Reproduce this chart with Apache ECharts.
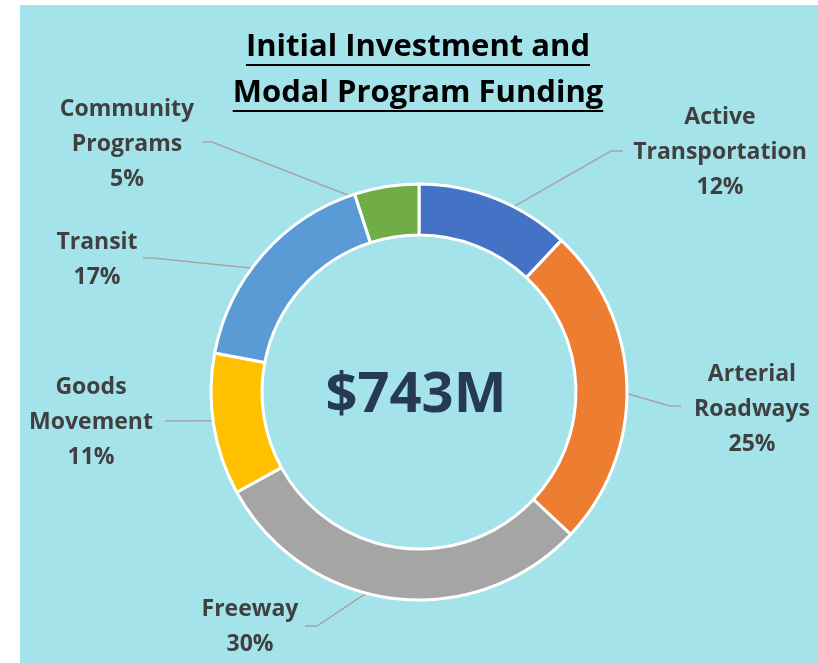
<!DOCTYPE html>
<html>
<head>
<meta charset="utf-8">
<script src="https://cdn.jsdelivr.net/npm/echarts@6/dist/echarts.min.js"></script>
<style>
  html, body { margin: 0; padding: 0; background: #ffffff; }
  #chart { width: 818px; height: 663px; }
</style>
</head>
<body>
<div id="chart"></div>
<script>
// data
var categories = ["Active\nTransportation", "Arterial\nRoadways", "Freeway", "Goods\nMovement", "Transit", "Community\nPrograms"];
var shares = [12, 25, 30, 11, 17, 5];
var colors = ["#4472c4", "#ed7d31", "#a5a5a5", "#ffc000", "#5b9bd5", "#70ad47"];
var titleLines = ["Initial Investment and", "Modal Program Funding"];
var totalLabel = "$743M";

// where Excel put the labels (centre of text block) and the elbow / end of the leader
var labelPos = [[720, 152], [752, 409], [250, 627], [91, 422], [97, 260], [127, 144]];
var lineBend = [[611, 151], [670, 406], [317, 626], [175, 421], [153, 258], [212, 142]];
var lineEnd = [[623, 151], [681, 406], [305, 626], [165, 421], [143, 258], [202, 142]];

var cx = 419, cy = 392, rIn = 157, rOut = 208;
var total = shares.reduce(function (a, b) { return a + b; }, 0);
var titleFont = "bold 31px 'Open Sans'";
var titleX = 418, titleY = [47, 93], underlineY = [65, 111];

function midPoint(i) {
  var before = 0;
  for (var k = 0; k < i; k++) before += shares[k];
  var ang = (before + shares[i] / 2) / total * Math.PI * 2;
  var r = (rIn + rOut) / 2;
  return [cx + r * Math.sin(ang), cy - r * Math.cos(ang)];
}

// measure title so the underline fits the text
var ctx = document.createElement("canvas").getContext("2d");
ctx.font = titleFont;

var graphics = [
  { type: "rect", z: -10, shape: { x: 20, y: 5, width: 798, height: 658 }, style: { fill: "#a5e3ea" } },
  { type: "text", z: 10, x: 416, y: 396,
    style: { text: totalLabel, fill: "#263a55", font: "bold 56px 'Open Sans'", align: "center", verticalAlign: "middle" } }
];
titleLines.forEach(function (t, i) {
  var w = ctx.measureText(t).width;
  graphics.push({ type: "text", z: 10, x: titleX, y: titleY[i],
    style: { text: t, fill: "#000000", font: titleFont, align: "center", verticalAlign: "middle" } });
  graphics.push({ type: "line", z: 10,
    shape: { x1: titleX - w / 2, y1: underlineY[i], x2: titleX + w / 2, y2: underlineY[i] },
    style: { stroke: "#000000", lineWidth: 2 } });
});

var chart = echarts.init(document.getElementById("chart"));
var option = {
  backgroundColor: "#ffffff",
  graphic: graphics,
  series: [{
    type: "pie",
    center: [cx, cy],
    radius: [rIn, rOut],
    startAngle: 90,
    clockwise: true,
    avoidLabelOverlap: false,
    animation: false,
    itemStyle: { borderColor: "#ffffff", borderWidth: 3 },
    label: {
      show: true,
      position: "outside",
      formatter: function (p) { return p.name + "\n" + p.value + "%"; },
      color: "#404040",
      fontFamily: "Open Sans",
      fontWeight: "bold",
      fontSize: 23,
      lineHeight: 35,
      align: "center"
    },
    labelLine: {
      show: true,
      lineStyle: { color: "#a5a5a5", width: 1.5 }
    },
    labelLayout: function (p) {
      var i = p.dataIndex;
      return {
        x: labelPos[i][0],
        y: labelPos[i][1],
        align: "center",
        verticalAlign: "middle",
        labelLinePoints: [midPoint(i), lineBend[i], lineEnd[i]]
      };
    },
    data: categories.map(function (c, i) {
      return { name: c, value: shares[i], itemStyle: { color: colors[i] } };
    })
  }]
};
chart.setOption(option);
</script>
</body>
</html>
